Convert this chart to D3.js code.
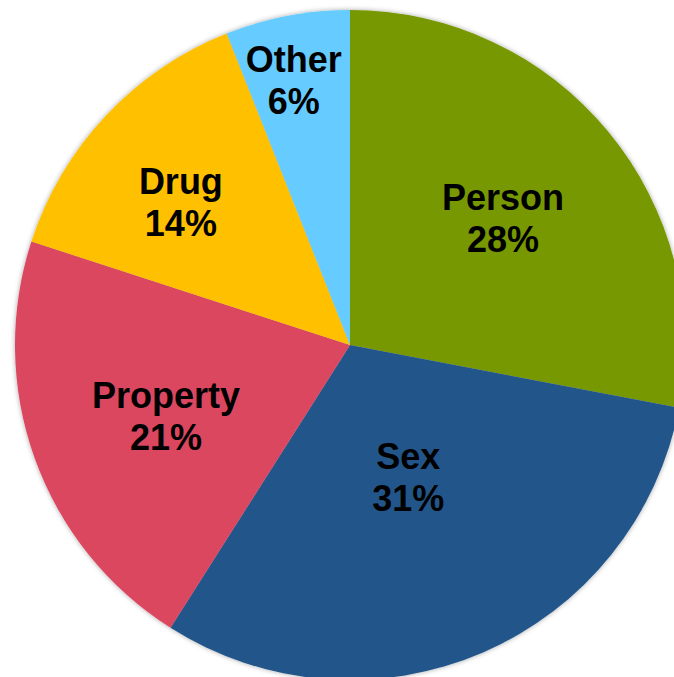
<!DOCTYPE html>
<html>
<head>
<meta charset="utf-8">
<script src="https://cdn.jsdelivr.net/npm/d3@7"></script>
<style>
  body { margin: 0; background: #fff; }
  svg { display: block; }
</style>
</head>
<body>
<svg id="chart" width="674" height="677"></svg>
<script>
const categories = ["Person", "Sex", "Property", "Drug", "Other"];
const shares = [28, 31, 21, 14, 6];
const sliceColors = ["#779800", "#24578a", "#dc4661", "#ffc000", "#66ccff"];

// where each label sits: fraction of radius, and a small turn off the mid-angle (degrees)
const labelSpots = [[0.593, 0], [0.43, -0.5], [0.589, -1.3], [0.661, -3], [0.809, -1.2]];

const width = 674, height = 677;
const cx = 350, cy = 345, radius = 335;

const svg = d3.select("#chart");

// soft edge shadow like the original
const defs = svg.append("defs");
const f = defs.append("filter").attr("id", "shade")
  .attr("x", "-10%").attr("y", "-10%").attr("width", "120%").attr("height", "120%");
f.append("feDropShadow").attr("dx", 0).attr("dy", 0)
  .attr("stdDeviation", 2.5).attr("flood-color", "#000").attr("flood-opacity", 0.35);

const g = svg.append("g").attr("transform", "translate(" + cx + "," + cy + ")");

const pie = d3.pie().sort(null).value(d => d);
const arcs = pie(shares);
const arc = d3.arc().innerRadius(0).outerRadius(radius);

g.append("g").attr("filter", "url(#shade)")
  .selectAll("path")
  .data(arcs)
  .join("path")
  .attr("d", arc)
  .attr("fill", (d, i) => sliceColors[i]);

const labels = g.selectAll("text.lbl")
  .data(arcs)
  .join("text")
  .attr("class", "lbl")
  .attr("font-family", "'Liberation Sans', Arial, sans-serif")
  .attr("font-weight", "bold")
  .attr("font-size", 36)
  .attr("fill", "#000")
  .attr("text-anchor", "middle")
  .each(function (d, i) {
    var mid = (d.startAngle + d.endAngle) / 2 + labelSpots[i][1] * Math.PI / 180;
    var r = radius * labelSpots[i][0];
    var x = r * Math.sin(mid);
    var y = -r * Math.cos(mid);
    var t = d3.select(this);
    t.append("tspan").attr("x", x).attr("y", y - 8).text(categories[i]);
    t.append("tspan").attr("x", x).attr("y", y + 34).text(shares[i] + "%");
  });
</script>
</body>
</html>
